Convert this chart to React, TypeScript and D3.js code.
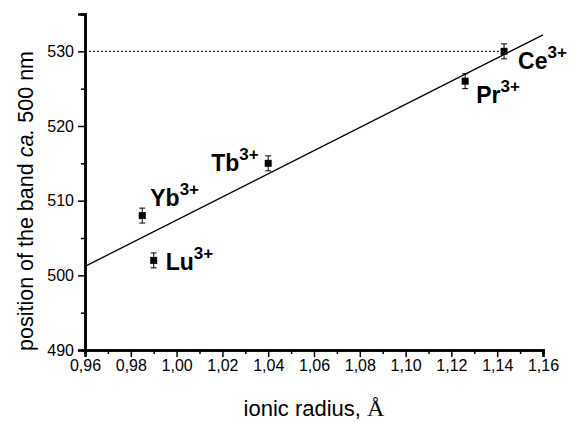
import * as React from 'react'
import * as d3 from 'd3'

const width = 573
const height = 422
const margin = { top: 14, right: 30, bottom: 72, left: 85 }

const ions = ['Yb', 'Lu', 'Tb', 'Pr', 'Ce']
const radius = [0.985, 0.99, 1.04, 1.126, 1.143]
const bandPos = [508, 502, 515, 526, 530]
const errors = [1, 1, 1, 1, 1]
const fitX = [0.96, 1.16]
const fitY = [501.2, 532.2]
const xTicks = [0.96, 0.98, 1.0, 1.02, 1.04, 1.06, 1.08, 1.1, 1.12, 1.14, 1.16]
const yTicks = [490, 500, 510, 520, 530]
const refLevel = 530

// label offsets in px from the point (layout only)
const labelOffset: Record<string, [number, number]> = {
  Yb: [8, -10],
  Lu: [12, 10],
  Tb: [-57, 8],
  Pr: [11, 22],
  Ce: [14, 18],
}

const font = 'Arial, "Liberation Sans", sans-serif'

const App = () => {
  const x = d3.scaleLinear().domain([0.96, 1.16]).range([margin.left, width - margin.right])
  const y = d3.scaleLinear().domain([490, 535]).range([height - margin.bottom, margin.top])

  const xRef = React.useRef(null)
  const yRef = React.useRef(null)

  React.useEffect(() => {
    const fmt = (d: any) => d3.format('.2f')(d).replace('.', ',')
    const xa = d3.select(xRef.current)
    xa.selectAll('*').remove()
    // minor ticks
    xa.append('g').call(
      d3.axisBottom(x).tickValues(d3.range(0.97, 1.16, 0.02)).tickSize(4).tickFormat(() => '')
    )
    xa.append('g').call(d3.axisBottom(x).tickValues(xTicks).tickSize(7).tickPadding(3).tickFormat(fmt))
    xa.selectAll('path.domain').attr('stroke-width', 2.5)
    xa.selectAll('line').attr('stroke-width', 1.5)
    xa.selectAll('text').attr('font-size', 16).attr('font-family', font).attr('fill', '#000')

    const ya = d3.select(yRef.current)
    ya.selectAll('*').remove()
    ya.append('g').call(d3.axisLeft(y).tickValues([495, 505, 515, 525]).tickSize(4).tickFormat(() => ''))
    ya.append('g').call(d3.axisLeft(y).tickValues(yTicks).tickSize(7).tickPadding(4))
    ya.selectAll('path.domain').attr('stroke-width', 2.5)
    ya.selectAll('line').attr('stroke-width', 1.5)
    ya.selectAll('text').attr('font-size', 16).attr('font-family', font).attr('fill', '#000')
  }, [])

  const fit = d3
    .line<number>()
    .x((_, i) => x(fitX[i]))
    .y(d => y(d))

  const ceIdx = ions.indexOf('Ce')

  return (
    <svg width={width} height={height} style={{ position: 'absolute', left: 0, top: 0, background: '#fff' }}>
      <line
        x1={x(0.96)}
        x2={x(radius[ceIdx])}
        y1={y(refLevel)}
        y2={y(refLevel)}
        stroke="#000"
        strokeWidth={1}
        strokeDasharray="2,2"
      />
      <path d={fit(fitY) || ''} fill="none" stroke="#000" strokeWidth={1.3} />
      {ions.map((ion, i) => {
        const cx = x(radius[i])
        const cy = y(bandPos[i])
        const top = y(bandPos[i] + errors[i])
        const bot = y(bandPos[i] - errors[i])
        const [dx, dy] = labelOffset[ion]
        return (
          <g key={ion}>
            <line x1={cx} x2={cx} y1={top} y2={bot} stroke="#000" strokeWidth={1} />
            <line x1={cx - 3} x2={cx + 3} y1={top} y2={top} stroke="#000" strokeWidth={1} />
            <line x1={cx - 3} x2={cx + 3} y1={bot} y2={bot} stroke="#000" strokeWidth={1} />
            <rect x={cx - 3.5} y={cy - 3.5} width={7} height={7} fill="#000" />
            <text x={cx + dx} y={cy + dy} fontFamily={font} fontWeight="bold" fontSize={23} fill="#000">
              {ion}
              <tspan fontSize={17} dy={-11}>
                3+
              </tspan>
            </text>
          </g>
        )
      })}
      <g ref={xRef} transform={`translate(0, ${height - margin.bottom})`} />
      <g ref={yRef} transform={`translate(${margin.left}, 0)`} />
      <text
        x={(margin.left + width - margin.right) / 2}
        y={416}
        textAnchor="middle"
        fontFamily={font}
        fontSize={22}
        fill="#000"
      >
        ionic radius,{' '}
        <tspan fontFamily='"Liberation Serif", "Times New Roman", serif' fontSize={24}>Å</tspan>
      </text>
      <text
        transform={`translate(33, 201) rotate(-90)`}
        textAnchor="middle"
        fontFamily={font}
        fontSize={21.5}
        fill="#000"
      >
        position of the band <tspan fontStyle="italic">ca.</tspan> 500 nm
      </text>
    </svg>
  )
}

export default App
